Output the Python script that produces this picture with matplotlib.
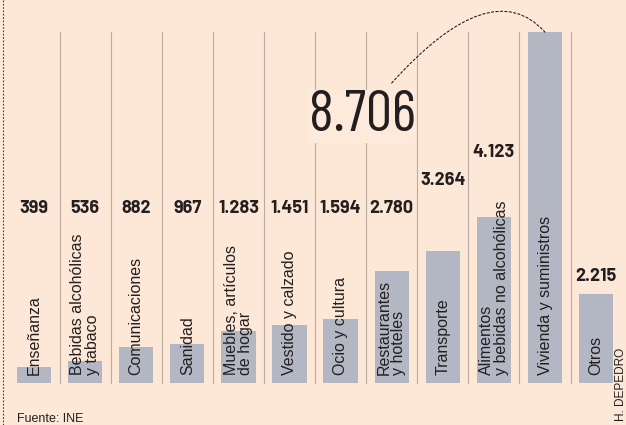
import matplotlib.pyplot as plt
from matplotlib.lines import Line2D

# Gasto por hogar (euros) por grupo de gasto
categorias = ["Enseñanza", "Bebidas alcohólicas\ny tabaco", "Comunicaciones", "Sanidad",
              "Muebles, artículos\nde hogar", "Vestido y calzado", "Ocio y cultura",
              "Restaurantes\ny hoteles", "Transporte", "Alimentos\ny bebidas no alcohólicas",
              "Vivienda y suministros", "Otros"]
valores = [399, 536, 882, 967, 1283, 1451, 1594, 2780, 3264, 4123, 8706, 2215]
etiquetas = ["399", "536", "882", "967", "1.283", "1.451", "1.594", "2.780",
             "3.264", "4.123", "8.706", "2.215"]

BG = "#fde8d7"
BAR = "#b3b7c4"
SEP = "#b9aca2"
TXT = "#231f20"
SANS = ["Liberation Sans", "DejaVu Sans"]
DIN = ["Barlow", "Roboto", "DejaVu Sans"]
COND = ["Barlow Condensed", "Archivo Narrow", "DejaVu Sans"]

fig = plt.figure(figsize=(6.26, 4.25), dpi=100, facecolor=BG)
ax = fig.add_axes([0, 0, 1, 1])
ax.set_facecolor(BG)

x = list(range(len(valores)))
ax.bar(x, valores, width=0.67, color=BAR, zorder=2)
ax.set_xlim(-0.665, 11.585)
ax.set_ylim(-1042, 9504)
ax.axis("off")

# separadores verticales
for i in range(len(valores) - 1):
    ax.plot([i + 0.5, i + 0.5], [0, max(valores)], color=SEP, lw=0.8, zorder=1)

# etiquetas de categoria dentro de las barras
for i, c in enumerate(categorias):
    ax.text(i, 200, c, rotation=90, ha="center", va="bottom", ma="left", fontsize=11.5,
            family=SANS, color=TXT, linespacing=0.95, zorder=3)

# etiquetas de valor
fila = 4340
for i, (v, e) in enumerate(zip(valores, etiquetas)):
    if i == 10:
        continue
    if i < 8:
        y = fila
    elif i == 8:
        y = fila + 695
    elif i == 9:
        y = fila + 1390
    else:
        y = v + 440
    ax.text(i, y, e, ha="center", va="center", fontsize=13, fontweight="bold",
            family=DIN, color=TXT, zorder=3)

# cifra destacada
ax.text(6.42, 6620, etiquetas[10], ha="center", va="center", fontsize=42,
        family=COND, color=TXT, zorder=4,
        bbox=dict(boxstyle="square,pad=0.0", facecolor="#fdeadb", edgecolor="none"))

ax.annotate("", xy=(10.0, valores[10]), xytext=(7.0, 7444),
            arrowprops=dict(arrowstyle="-", connectionstyle="angle3,angleA=48,angleB=132",
                            linestyle=(0, (2, 2)), color=TXT, lw=0.8,
                            shrinkA=0, shrinkB=0), annotation_clip=False)

fig.text(17 / 626, 6 / 425, "Fuente: INE", fontsize=9, family=SANS, color=TXT,
         ha="left", va="center")
fig.text(621 / 626, 4 / 425, "H. DEPEDRO", fontsize=8.5, family=SANS, color=TXT,
         rotation=90, ha="center", va="bottom")
fig.add_artist(Line2D([3 / 626, 3 / 626], [0, 1], color="#4a3a30", lw=0.8,
                      linestyle=(0, (1.5, 1.5))))

fig.savefig("out.png", dpi=100, facecolor=BG)
